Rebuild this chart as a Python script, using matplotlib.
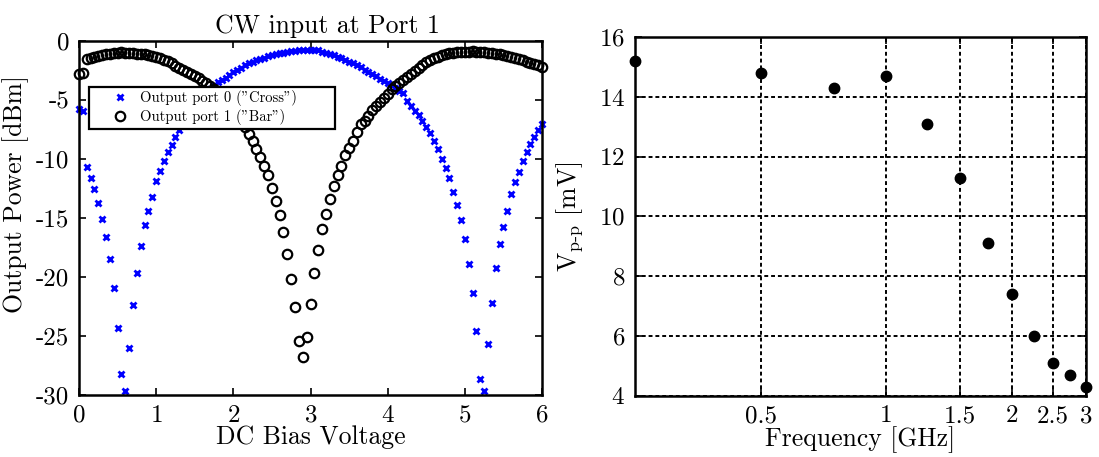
import matplotlib
matplotlib.use("Agg")
import matplotlib.pyplot as plt
from matplotlib.ticker import FixedLocator, FixedFormatter, NullLocator

plt.rcParams['font.family'] = ['cmr10', 'DejaVu Serif']
plt.rcParams['mathtext.fontset'] = 'cm'
plt.rcParams['axes.unicode_minus'] = False
plt.rcParams['axes.formatter.use_mathtext'] = True

# ---------------- data: left panel ----------------
bias_voltage = [
    0.00, 0.05, 0.10, 0.15, 0.20, 0.25, 0.30, 0.35, 0.40, 0.45,
    0.50, 0.55, 0.60, 0.65, 0.70, 0.75, 0.80, 0.85, 0.90, 0.95,
    1.00, 1.05, 1.10, 1.15, 1.20, 1.25, 1.30, 1.35, 1.40, 1.45,
    1.50, 1.55, 1.60, 1.65, 1.70, 1.75, 1.80, 1.85, 1.90, 1.95,
    2.00, 2.05, 2.10, 2.15, 2.20, 2.25, 2.30, 2.35, 2.40, 2.45,
    2.50, 2.55, 2.60, 2.65, 2.70, 2.75, 2.80, 2.85, 2.90, 2.95,
    3.00, 3.05, 3.10, 3.15, 3.20, 3.25, 3.30, 3.35, 3.40, 3.45,
    3.50, 3.55, 3.60, 3.65, 3.70, 3.75, 3.80, 3.85, 3.90, 3.95,
    4.00, 4.05, 4.10, 4.15, 4.20, 4.25, 4.30, 4.35, 4.40, 4.45,
    4.50, 4.55, 4.60, 4.65, 4.70, 4.75, 4.80, 4.85, 4.90, 4.95,
    5.00, 5.05, 5.10, 5.15, 5.20, 5.25, 5.30, 5.35, 5.40, 5.45,
    5.50, 5.55, 5.60, 5.65, 5.70, 5.75, 5.80, 5.85, 5.90, 5.95,
    6.00,
]

cross_port0_dbm = [
    -5.8, -5.9, -10.7, -11.6, -12.5, -13.7, -15.1, -16.6, -18.5, -20.9,
    -24.3, -28.2, -29.7, -26.0, -22.4, -19.7, -17.4, -15.6, -14.4, -13.2,
    -11.9, -11.0, -10.2, -9.4, -8.8, -8.1, -7.5, -7.0, -6.5, -6.0,
    -5.6, -5.2, -4.8, -4.4, -4.05, -3.75, -3.5, -3.3, -3.1, -2.9,
    -2.65, -2.45, -2.25, -2.05, -1.9, -1.75, -1.6, -1.5, -1.4, -1.3,
    -1.2, -1.12, -1.05, -0.98, -0.92, -0.86, -0.82, -0.78, -0.75, -0.73,
    -0.73, -0.75, -0.8, -0.9, -1.02, -1.12, -1.22, -1.34, -1.46, -1.6,
    -1.75, -1.9, -2.06, -2.24, -2.43, -2.62, -2.82, -3.0, -3.2, -3.35,
    -3.55, -3.75, -3.97, -4.2, -4.44, -5.08, -5.48, -5.93, -6.27, -6.78,
    -7.26, -7.82, -8.47, -9.18, -10.03, -10.73, -11.58, -12.82, -13.93, -15.17,
    -16.81, -18.9, -21.33, -24.6, -28.67, -29.66, -25.7, -22.23, -19.27, -17.23,
    -15.79, -14.38, -12.99, -11.92, -11.1, -10.2, -9.4, -8.7, -8.1, -7.5,
    -7.0,
]

bar_port1_dbm = [
    -2.8, -2.7, -1.5, -1.42, -1.35, -1.28, -1.2, -1.13, -1.07, -1.02,
    -0.99, -0.97, -0.98, -1.0, -1.03, -1.07, -1.1, -1.14, -1.18, -1.23,
    -1.32, -1.44, -1.57, -1.72, -1.9, -2.08, -2.27, -2.43, -2.6, -2.78,
    -2.97, -3.17, -3.37, -3.6, -3.85, -4.1, -4.4, -4.75, -5.1, -5.5,
    -5.9, -6.35, -6.8, -7.3, -7.85, -8.47, -9.15, -9.8, -10.56, -11.36,
    -12.43, -13.53, -14.75, -16.16, -18.08, -20.2, -22.5, -25.4, -26.8, -25.1,
    -22.3, -19.7, -17.7, -15.96, -14.66, -13.36, -12.29, -11.38, -10.56, -9.66,
    -9.04, -8.47, -7.68, -7.06, -6.78, -6.33, -5.85, -5.48, -5.14, -4.8,
    -4.45, -4.1, -3.8, -3.55, -3.3, -3.05, -2.78, -2.52, -2.25, -2.02,
    -1.82, -1.62, -1.45, -1.32, -1.2, -1.11, -1.04, -0.98, -0.94, -0.91,
    -0.9, -0.89, -0.88, -0.9, -0.92, -0.96, -1.0, -1.05, -1.1, -1.14,
    -1.2, -1.28, -1.37, -1.47, -1.56, -1.65, -1.74, -1.83, -1.92, -2.02,
    -2.2,
]

left_xticks = [0, 1, 2, 3, 4, 5, 6]
left_yticks = [-30, -25, -20, -15, -10, -5, 0]
left_ytick_labels = ["-30", "-25", "-20", "-15", "-10", "-5", "0"]

# ---------------- data: right panel ----------------
frequency_ghz = [0.25, 0.5, 0.75, 1.0, 1.25, 1.5, 1.75, 2.0, 2.25, 2.5, 2.75, 3.0]
vpp_mv = [15.2, 14.8, 14.3, 14.7, 13.1, 11.3, 9.1, 7.4, 6.0, 5.1, 4.7, 4.3]

right_xticks = [0.5, 1, 1.5, 2, 2.5, 3]
right_xtick_labels = ["0.5", "1", "1.5", "2", "2.5", "3"]
right_yticks = [4, 6, 8, 10, 12, 14, 16]

# ---------------- figure ----------------
W, H = 1099, 457
fig = plt.figure(figsize=(W / 100, H / 100), dpi=100)

def frac(x0, y0, x1, y1):
    return [x0 / W, 1 - y1 / H, (x1 - x0) / W, (y1 - y0) / H]

ax1 = fig.add_axes(frac(79, 41, 542, 395))
ax2 = fig.add_axes(frac(634.6, 37.3, 1086, 395.5))

tick_fs = 18
label_fs = 18.5

# ---- left panel ----
ax1.plot(bias_voltage, cross_port0_dbm, linestyle='none', marker='x', color='#0000ff',
         markersize=5, markeredgewidth=2.0, clip_on=False, label='Output port 0 ("Cross")')
ax1.plot(bias_voltage, bar_port1_dbm, linestyle='none', marker='o', markerfacecolor='none',
         markeredgecolor='black', markersize=6.8, markeredgewidth=1.6, clip_on=False,
         label='Output port 1 ("Bar")')
ax1.set_xlim(0, 6)
ax1.set_ylim(-30, 0)
ax1.xaxis.set_major_locator(FixedLocator(left_xticks))
ax1.yaxis.set_major_locator(FixedLocator(left_yticks))
ax1.yaxis.set_major_formatter(FixedFormatter(left_ytick_labels))
ax1.tick_params(direction='in', top=True, right=True, length=5, width=1.2,
                labelsize=tick_fs, pad=7)
for sp in ax1.spines.values():
    sp.set_linewidth(1.8)

ax1.set_title("CW input at Port 1", fontsize=label_fs, x=0.536, pad=6)
ax1.set_xlabel("DC Bias Voltage", fontsize=label_fs)
ax1.set_ylabel("Output Power [dBm]", fontsize=label_fs)
ax1.xaxis.set_label_coords(0.5, -0.085)
ax1.yaxis.set_label_coords(-0.108, 0.568)

leg = ax1.legend(loc='upper left', bbox_to_anchor=(0.021, 0.753, 0.532, 0.118),
                 mode='expand', borderaxespad=0, fancybox=False, framealpha=1,
                 edgecolor='black', fontsize=10.5, handlelength=3.8,
                 handletextpad=-0.55, borderpad=0.25, labelspacing=0.2, numpoints=1)
leg.get_frame().set_linewidth(1.6)

# ---- right panel ----
ax2.set_xscale('log')
ax2.plot(frequency_ghz, vpp_mv, linestyle='none', marker='o', color='black',
         markersize=7.5, clip_on=False, zorder=5)
ax2.set_xlim(0.25, 3)
ax2.set_ylim(4, 16)
ax2.xaxis.set_major_locator(FixedLocator(right_xticks))
ax2.xaxis.set_major_formatter(FixedFormatter(right_xtick_labels))
ax2.xaxis.set_minor_locator(NullLocator())
ax2.yaxis.set_major_locator(FixedLocator(right_yticks))
ax2.tick_params(direction='in', top=True, right=True, length=5, width=1.2,
                labelsize=tick_fs, pad=7)
ax2.grid(True, which='major', color='black', linestyle=(0, (2, 1.5)), linewidth=1.4)
ax2.set_axisbelow(True)
for sp in ax2.spines.values():
    sp.set_linewidth(1.8)

ax2.set_xlabel("Frequency [GHz]", fontsize=label_fs)
ax2.set_ylabel(r"V$_{\mathrm{p\text{-}p}}$ [mV]", fontsize=label_fs)
ax2.xaxis.set_label_coords(0.5, -0.085)
ax2.yaxis.set_label_coords(-0.11, 0.5)

fig.savefig("out.png", dpi=100)
